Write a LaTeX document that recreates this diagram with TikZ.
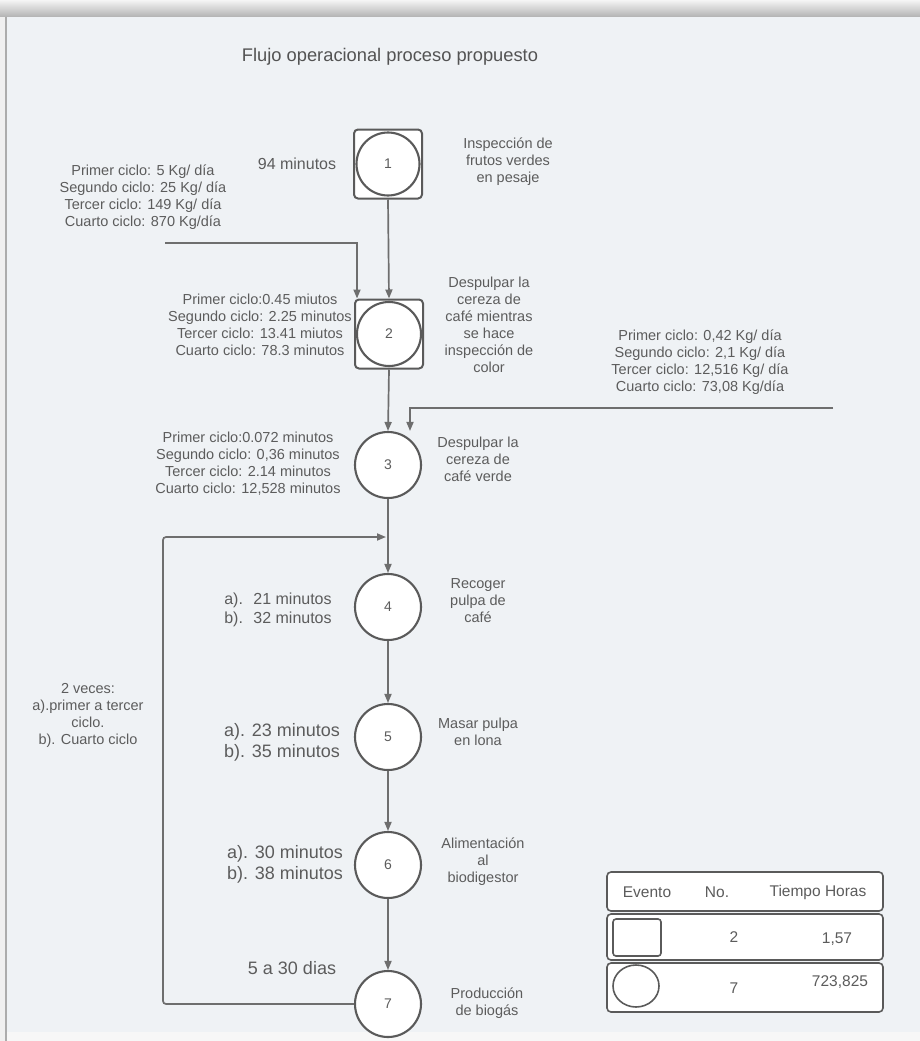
\documentclass[tikz,border=0pt]{standalone}
\usepackage{fontspec}
\setmainfont{Liberation Sans}
\usetikzlibrary{arrows.meta,shapes.geometric}

\definecolor{card}{HTML}{EFF2F5}
\definecolor{ink}{HTML}{5C5C5C}
\definecolor{edge}{HTML}{5A5A5A}
\definecolor{wire}{HTML}{6E6E6E}

\tikzset{
  evt/.style={circle, draw=edge, line width=2.1pt, fill=white, minimum size=66pt,
    inner sep=0pt, text=ink, font=\fontsize{14}{16}\selectfont},
  inspbox/.style={rectangle, rounded corners=4pt, draw=edge, line width=2pt,
    fill=white, minimum width=68pt, minimum height=69pt, inner sep=0pt},
  flow/.style={draw=wire, line width=1.7pt, -{Triangle[length=9pt,width=7pt]}},
  note/.style={align=center, text=ink, inner sep=0pt, font=\fontsize{14.5}{17}\selectfont},
  midnote/.style={note, font=\fontsize{16}{19}\selectfont},
  bignote/.style={note, font=\fontsize{18}{21}\selectfont},
  tblrow/.style={rectangle, rounded corners=4pt, draw=edge, line width=1.6pt,
    fill=white, minimum width=276pt, inner sep=0pt},
  tbltext/.style={text=ink, inner sep=0pt, font=\fontsize{15.5}{18}\selectfont},
}

\begin{document}
\begin{tikzpicture}[x=1pt,y=-1pt]
\useasboundingbox (0,0) rectangle (920,1041);

% page, shadow and card
\fill[gray!12] (0,0) rectangle (920,1041);
\shade[top color=gray!8, bottom color=gray!60] (0,0) rectangle (920,17);
\fill[card] (6,17) rectangle (920,1032);
\fill[gray!6] (6,1032) rectangle (920,1041);
\draw[gray!65, line width=2pt] (6,17) -- (6,1041);

% title
\node[text=ink!90!black, inner sep=0pt, font=\fontsize{18.3}{21}\selectfont] (title) at (390,57)
  {Flujo operacional proceso propuesto};

% events along the main axis
\node[inspbox] (n1s) at (388,164) {};
\node[evt, minimum size=63pt] (n1) at (388,164) {1};
\node[inspbox] (n2s) at (389,334) {};
\node[evt, minimum size=64pt] (n2) at (389,334) {2};
\node[evt] (n3) at (388,465) {3};
\node[evt] (n4) at (388,607) {4};
\node[evt] (n5) at (388,737) {5};
\node[evt] (n6) at (388,865) {6};
\node[evt] (n7) at (388,1004) {7};

% main flow
\draw[flow] (n1s.south) -- (n2s.north);
\draw[flow] (n2s.south) -- (n3.north);
\draw[flow] (n3.south) -- (n4.north);
\draw[flow] (n4.south) -- (n5.north);
\draw[flow] (n5.south) -- (n6.north);
\draw[flow] (n6.south) -- (n7.north);

% feeds
\coordinate (in1) at (165,243);
\draw[flow] (in1) -| ([xshift=3pt]n2s.north west);
\coordinate (in2) at (833,408);
\draw[flow] (in2) -| ([xshift=22pt]n3.north);

% return loop
\coordinate (lp) at (163,537);
\coordinate (lpend) at (386,537);
\draw[flow, rounded corners=3pt] (n7.west) -| (lp) -- (lpend);

% labels
\node[midnote] (t1l) at (297,164) {94 minutos};
\node[note] (t1r) at (508,162) {Inspección de\\frutos verdes\\en pesaje};
\node[note] (f1) at (143,197) {Primer ciclo: 5 Kg/ día\\Segundo ciclo: 25 Kg/ día\\Tercer ciclo: 149 Kg/ día\\Cuarto ciclo: 870 Kg/día};

\node[note] (t2l) at (260,325) {Primer ciclo:0.45 miutos\\Segundo ciclo: 2.25 minutos\\Tercer ciclo: 13.41 miutos\\Cuarto ciclo: 78.3 minutos};
\node[note] (t2r) at (489,325) {Despulpar la\\cereza de\\café mientras\\se hace\\inspección de\\color};

\node[note] (f2) at (700,362) {Primer ciclo: 0,42 Kg/ día\\Segundo ciclo: 2,1 Kg/ día\\Tercer ciclo: 12,516 Kg/ día\\Cuarto ciclo: 73,08 Kg/día};

\node[note] (t3l) at (248,464) {Primer ciclo:0.072 minutos\\Segundo ciclo: 0,36 minutos\\Tercer ciclo: 2.14 minutos\\Cuarto ciclo: 12,528 minutos};
\node[note] (t3r) at (478,459) {Despulpar la\\cereza de\\café verde};

\node[midnote] (t4l) at (278,610) {a).~ 21 minutos\\b).~ 32 minutos};
\node[note] (t4r) at (478,601) {Recoger\\pulpa de\\café};

\node[bignote] (t5l) at (282,742) {a). 23 minutos\\b). 35 minutos};
\node[note] (t5r) at (478,732) {Masar pulpa\\en lona};

\node[bignote] (t6l) at (285,864) {a). 30 minutos\\b). 38 minutos};
\node[note] (t6r) at (483,862) {Alimentación\\al\\biodigestor};

\node[bignote] (t7l) at (292,968) {5 a 30 dias};
\node[note] (t7r) at (487,1003) {Producción\\de biogás};

\node[note] (loopl) at (88,715) {2 veces:\\a).primer a tercer\\ciclo.\\b). Cuarto ciclo};

% summary table
\node[tblrow, minimum height=39pt] (hdr) at (745,891.5) {};
\node[tblrow, minimum height=46pt] (row2) at (745,937) {};
\node[tblrow, minimum height=49pt] (row3) at (745,987.5) {};
\node[tbltext] (hev) at (647,892) {Evento};
\node[tbltext] (hno) at (717,892) {No.};
\node[tbltext] (hti) at (818,892) {Tiempo Horas};
\node[rectangle, rounded corners=3pt, draw=edge, line width=1.6pt, minimum width=48pt,
  minimum height=37pt, inner sep=0pt] (ksq) at (637,937.5) {};
\node[tbltext] (no2) at (734,937) {2};
\node[tbltext] (tm2) at (837,939) {1,57};
\node[ellipse, draw=edge, line width=1.6pt, minimum width=46pt, minimum height=42pt,
  inner sep=0pt] (kci) at (636,986) {};
\node[tbltext] (no7) at (734,988) {7};
\node[tbltext] (tm7) at (840,982) {723,825};
\end{tikzpicture}
\end{document}
